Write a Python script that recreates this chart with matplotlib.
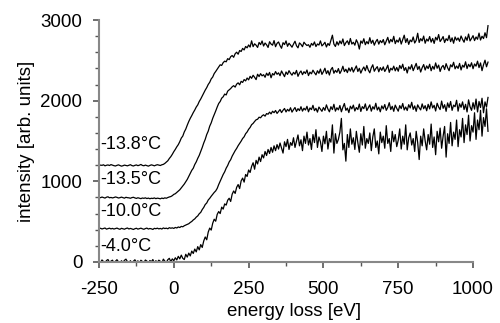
import numpy as np
import matplotlib
matplotlib.use("Agg")
import matplotlib.pyplot as plt
from matplotlib.ticker import MultipleLocator

plt.rcParams['font.family'] = ['Liberation Sans', 'DejaVu Sans']
plt.rcParams['axes.unicode_minus'] = False

# energy axis, 5 eV steps from -250 to 1050
energy = np.arange(-250, 1051, 5)

# spectra (already vertically offset as in the figure)
t_138 = [
    1195, 1201, 1198, 1205, 1192, 1199, 1203, 1196, 1207, 1200,
    1194, 1190, 1198, 1204, 1196, 1188, 1193, 1201, 1197, 1192,
    1199, 1206, 1195, 1190, 1198, 1203, 1194, 1200, 1209, 1197,
    1193, 1201, 1195, 1188, 1197, 1204, 1199, 1192, 1200, 1206,
    1201, 1196, 1205, 1210, 1222, 1238, 1255, 1283, 1306, 1335,
    1368, 1396, 1428, 1455, 1492, 1536, 1561, 1612, 1648, 1697,
    1742, 1781, 1815, 1852, 1884, 1921, 1948, 1990, 2021, 2058,
    2094, 2131, 2162, 2201, 2228, 2270, 2293, 2336, 2362, 2391,
    2418, 2445, 2437, 2472, 2490, 2482, 2521, 2509, 2545, 2560,
    2538, 2582, 2601, 2576, 2622, 2610, 2648, 2629, 2672, 2655,
    2691, 2664, 2742, 2670, 2705, 2688, 2660, 2722, 2695, 2740,
    2678, 2715, 2693, 2660, 2731, 2702, 2688, 2745, 2669, 2711,
    2728, 2683, 2650, 2719, 2696, 2741, 2674, 2712, 2689, 2663,
    2702, 2737, 2681, 2655, 2716, 2698, 2669, 2725, 2701, 2684,
    2694, 2662, 2710, 2687, 2728, 2671, 2703, 2690, 2741, 2679,
    2698, 2724, 2666, 2709, 2685, 2750, 2812, 2702, 2672, 2731,
    2690, 2741, 2706, 2765, 2683, 2719, 2742, 2695, 2771, 2702,
    2724, 2688, 2755, 2716, 2640, 2740, 2712, 2768, 2694, 2733,
    2705, 2781, 2711, 2749, 2688, 2732, 2760, 2701, 2745, 2719,
    2758, 2693, 2740, 2785, 2714, 2760, 2730, 2798, 2707, 2751,
    2726, 2779, 2702, 2756, 2812, 2721, 2770, 2698, 2752, 2731,
    2790, 2715, 2748, 2836, 2722, 2769, 2741, 2801, 2712, 2764,
    2739, 2795, 2726, 2771, 2710, 2786, 2752, 2820, 2733, 2760,
    2795, 2721, 2768, 2745, 2810, 2732, 2779, 2712, 2790, 2750,
    2778, 2736, 2802, 2759, 2725, 2791, 2748, 2826, 2741, 2772,
    2806, 2745, 2790, 2761, 2838, 2752, 2799, 2770, 2842, 2781,
    2930,
]

t_135 = [
    801, 797, 805, 799, 792, 803, 808, 796, 800, 794,
    799, 806, 801, 793, 797, 804, 798, 791, 802, 797,
    795, 790, 798, 802, 794, 788, 796, 791, 785, 793,
    789, 795, 786, 792, 784, 790, 787, 794, 785, 791,
    788, 783, 792, 786, 795, 790, 799, 806, 811, 822,
    838, 846, 862, 877, 895, 918, 940, 966, 995, 1024,
    1062, 1098, 1136, 1162, 1208, 1241, 1285, 1322, 1371, 1420,
    1475, 1521, 1580, 1622, 1684, 1725, 1781, 1826, 1872, 1921,
    1965, 1990, 2031, 2048, 2082, 2071, 2118, 2134, 2150, 2172,
    2186, 2168, 2205, 2221, 2197, 2240, 2226, 2262, 2245, 2281,
    2258, 2302, 2277, 2315, 2290, 2261, 2328, 2299, 2335, 2308,
    2322, 2290, 2341, 2312, 2350, 2284, 2336, 2318, 2361, 2327,
    2345, 2310, 2368, 2332, 2298, 2356, 2325, 2372, 2340, 2316,
    2351, 2329, 2375, 2302, 2344, 2368, 2322, 2359, 2337, 2380,
    2311, 2354, 2333, 2378, 2347, 2320, 2371, 2339, 2392, 2326,
    2360, 2402, 2335, 2372, 2318, 2385, 2412, 2340, 2376, 2351,
    2398, 2337, 2372, 2427, 2360, 2390, 2348, 2405, 2366, 2412,
    2355, 2393, 2431, 2362, 2401, 2342, 2386, 2418, 2371, 2436,
    2380, 2346, 2408, 2445, 2365, 2398, 2422, 2358, 2410, 2376,
    2419, 2362, 2395, 2440, 2351, 2402, 2381, 2428, 2370, 2412,
    2365, 2436, 2398, 2452, 2375, 2410, 2343, 2420, 2391, 2446,
    2372, 2418, 2462, 2387, 2425, 2355, 2409, 2448, 2380, 2431,
    2398, 2452, 2371, 2426, 2390, 2468, 2402, 2441, 2362, 2415,
    2437, 2386, 2459, 2408, 2372, 2445, 2419, 2476, 2395, 2430,
    2400, 2462, 2381, 2440, 2415, 2482, 2398, 2451, 2420, 2470,
    2396, 2455, 2428, 2490, 2410, 2468, 2372, 2445, 2502, 2420,
    2478,
]

t_100 = [
    412, 418, 409, 415, 421, 407, 413, 419, 410, 416,
    408, 414, 420, 411, 405, 417, 412, 406, 415, 421,
    409, 416, 410, 403, 412, 418, 407, 413, 419, 411,
    405, 414, 420, 408, 415, 411, 403, 417, 412, 419,
    410, 416, 408, 422, 414, 419, 411, 425, 418, 423,
    416, 428, 421, 434, 427, 441, 436, 449, 458, 466,
    474, 490, 502, 521, 534, 556, 571, 598, 615, 650,
    676, 712, 731, 768, 789, 815, 838, 862, 881, 912,
    960, 1002, 1041, 1085, 1118, 1163, 1196, 1240, 1268, 1312,
    1345, 1380, 1408, 1442, 1470, 1498, 1531, 1552, 1590, 1612,
    1645, 1668, 1702, 1718, 1742, 1763, 1770, 1795, 1788, 1812,
    1825, 1808, 1840, 1832, 1858, 1836, 1869, 1851, 1878, 1842,
    1865, 1890, 1852, 1881, 1903, 1860, 1892, 1871, 1912, 1858,
    1889, 1915, 1866, 1901, 1877, 1925, 1870, 1906, 1884, 1930,
    1862, 1910, 1889, 1942, 1876, 1905, 1858, 1921, 1895, 1868,
    1915, 1880, 1948, 1896, 1862, 1925, 1890, 1955, 1870, 1912,
    1886, 1940, 1862, 1918, 1965, 1880, 1908, 1852, 1931, 1898,
    1945, 1872, 1915, 1890, 1958, 1866, 1926, 1901, 1960, 1878,
    1912, 1948, 1870, 1925, 1895, 1968, 1884, 1920, 1862, 1935,
    1898, 1952, 1880, 1916, 1975, 1890, 1930, 1868, 1945, 1905,
    1870, 1938, 1902, 1965, 1885, 1922, 1878, 1950, 1910, 1980,
    1892, 1935, 1868, 1948, 1912, 1885, 1960, 1900, 1938, 1875,
    1955, 1898, 1985, 1910, 1942, 1872, 1968, 1920, 1890, 1995,
    1905, 1950, 1868, 1972, 1915, 1990, 1880, 1945, 1925, 2005,
    1870, 1962, 1918, 1985, 1890, 1955, 1860, 2010, 1925, 1880,
    1975, 1895, 2020, 1860, 1990, 1915, 2030, 1850, 1985, 1920,
    2040,
]

t_40 = [
    12, -8, 25, 5, -15, 18, 30, -5, 10, 22,
    -12, 8, 28, 2, -18, 15, -6, 20, 35, 4,
    -10, 16, -22, 9, 27, -4, 14, -15, 21, 6,
    -8, 24, 11, -20, 18, 3, 30, -12, 15, -3,
    22, 8, -18, 35, 10, -6, 28, 45, 4, 38,
    15, 52, 25, 70, 38, 85, 45, 30, 95, 60,
    110, 75, 135, 105, 160, 125, 190, 150, 215, 180,
    260, 310, 275, 370, 420, 395, 480, 530, 505, 590,
    625, 600, 680, 655, 720, 705, 765, 790, 750, 840,
    880, 850, 925, 960, 910, 1005, 1040, 990, 1085, 1060,
    1140, 1110, 1185, 1230, 1150, 1260, 1215, 1300, 1245, 1330,
    1290, 1370, 1320, 1395, 1345, 1420, 1360, 1440, 1380, 1455,
    1400, 1475, 1410, 1350, 1490, 1430, 1520, 1395, 1480, 1445,
    1540, 1420, 1500, 1575, 1440, 1515, 1380, 1560, 1470, 1610,
    1450, 1530, 1395, 1580, 1480, 1640, 1420, 1550, 1490, 1370,
    1560, 1465, 1620, 1400, 1530, 1485, 1700, 1350, 1590, 1470,
    1520, 1610, 1780, 1390, 1470, 1250, 1580, 1420, 1650, 1460,
    1540, 1395, 1620, 1480, 1360, 1590, 1450, 1680, 1410, 1530,
    1470, 1600, 1380, 1550, 1650, 1420, 1500, 1340, 1610, 1480,
    1560, 1410, 1690, 1470, 1530, 1370, 1620, 1490, 1580, 1430,
    1510, 1650, 1400, 1560, 1460, 1700, 1390, 1540, 1600, 1450,
    1530, 1370, 1620, 1480, 1270, 1560, 1440, 1650, 1500, 1390,
    1580, 1460, 1710, 1420, 1550, 1330, 1620, 1490, 1660, 1410,
    1560, 1680, 1300, 1590, 1470, 1730, 1440, 1610, 1520, 1760,
    1430, 1640, 1550, 1780, 1480, 1700, 1580, 1820, 1500, 1690,
    1610, 1850, 1520, 1760, 1640, 1880, 1560, 1790, 1680, 1900,
    1620,
]

labels = ['-13.8°C', '-13.5°C', '-10.0°C', '-4.0°C']
label_y = [1460, 1020, 630, 190]

fig = plt.figure(figsize=(5, 3.23), dpi=100)
ax = fig.add_axes([0.198, 0.189, 0.781, 0.749])

for series in [t_138, t_135, t_100, t_40]:
    ax.plot(energy, series, color='black', lw=0.9)

for txt, yv in zip(labels, label_y):
    ax.text(-245, yv, txt, fontsize=13, va='center', ha='left')

ax.set_xlim(-250, 1055)
ax.set_ylim(0, 3000)
ax.set_xticks([-250, 0, 250, 500, 750, 1000])
ax.set_yticks([0, 1000, 2000, 3000])
ax.xaxis.set_minor_locator(MultipleLocator(125))
ax.yaxis.set_minor_locator(MultipleLocator(200))

for side in ['top', 'right']:
    ax.spines[side].set_visible(False)
for side in ['left', 'bottom']:
    ax.spines[side].set_color('#888888')
    ax.spines[side].set_linewidth(1.5)
ax.spines['bottom'].set_bounds(-250, 1000)

ax.tick_params(which='both', direction='out', color='#555555', labelsize=13.5)
ax.tick_params(which='major', length=4, width=1.2)
ax.tick_params(axis='x', which='major', pad=10)
ax.tick_params(axis='y', which='major', pad=8)
ax.tick_params(which='minor', length=3, width=1.0)

ax.set_xlabel('energy loss [eV]', fontsize=13.5, labelpad=3)
ax.set_ylabel('intensity [arb. units]', fontsize=13.5, labelpad=4)

fig.savefig('out.png', dpi=100)
